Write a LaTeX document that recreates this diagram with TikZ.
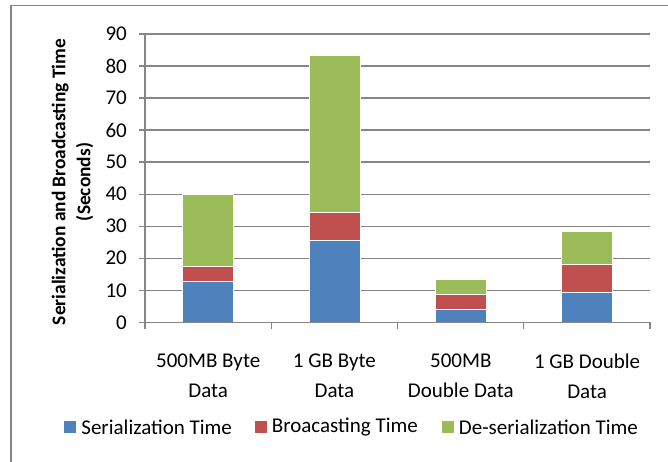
\documentclass[tikz,border=0pt]{standalone}
\usepackage{fontspec}
\setmainfont{Carlito}
\usepackage{tikz}
\usetikzlibrary{positioning}

\definecolor{serblue}{HTML}{4F81BD}
\definecolor{castred}{HTML}{C0504D}
\definecolor{desgreen}{HTML}{9BBB59}
\definecolor{axgray}{HTML}{868686}

\begin{document}
\begin{tikzpicture}[
      x=1pt, y=1pt,
      font=\fontsize{21}{30}\selectfont,
      grid/.style={axgray, line width=1.3pt},
      seg/.style={draw=white, line width=0.5pt},
      tick/.style={anchor=east, inner sep=0pt},
      cat/.style={align=center, inner sep=0pt},
      key/.style={minimum size=12pt, inner sep=0pt},
      keytext/.style={anchor=west, inner sep=0pt},
    ]
    \useasboundingbox (0,0) rectangle (668,462);

    % chart frame
    \draw[axgray, line width=1.5pt] (11,0) -- (11,456.5) -- (668,456.5);

    \begin{scope}[shift={(145,139.7)}, y=3.2033pt]
      % gridlines and values
      \foreach \v in {10,20,...,90}
        \draw[grid] (-6,\v) -- (505,\v);
      \foreach \v in {0,10,...,90}
        \node[tick] (y\v) at (-18,\v) {\v};

      % stacked bars
      \foreach \c/\s/\b/\d in {63.2/12.7/17.4/40.1, 189.4/25.6/34.2/83.4,
                               315.8/4.2/8.8/13.5, 442.1/9.4/18.2/28.4} {
        \filldraw[seg, fill=serblue]  (\c-25.5,0)  rectangle (\c+25.5,\s);
        \filldraw[seg, fill=castred]  (\c-25.5,\s) rectangle (\c+25.5,\b);
        \filldraw[seg, fill=desgreen] (\c-25.5,\b) rectangle (\c+25.5,\d);
      }

      % axes
      \draw[grid] (0,0) -- (0,90);
      \draw[grid] (-6,0) -- (505,0);
      \foreach \t in {0,126.25,252.5,378.75,505}
        \draw[grid] (\t,0) -- (\t,-2.2);
    \end{scope}

    % categories
    \node[cat] (c1) at (208.2,86) {500MB Byte\\Data};
    \node[cat] (c2) at (334.4,86) {1 GB Byte\\Data};
    \node[cat] (c3) at (460.8,86) {500MB\\Double Data};
    \node[cat] (c4) at (587.1,86) {1 GB Double\\Data};

    % value axis title
    \node[cat, rotate=90, font=\fontsize{19.4}{25}\selectfont\bfseries]
      (ytitle) at (72.5,280) {Serialization and Broadcasting Time\\(Seconds)};

    % legend
    \node[key, fill=serblue]  (k1) at (70,35)  {};
    \node[keytext, right=5pt of k1] (t1) {Serialization Time};
    \node[key, fill=castred]  (k2) at (260.5,35) {};
    \node[keytext, right=5pt of k2] (t2) {Broacasting Time};
    \node[key, fill=desgreen] (k3) at (447.5,35) {};
    \node[keytext, right=5pt of k3] (t3) {De-serialization Time};
  \end{tikzpicture}
\end{document}
